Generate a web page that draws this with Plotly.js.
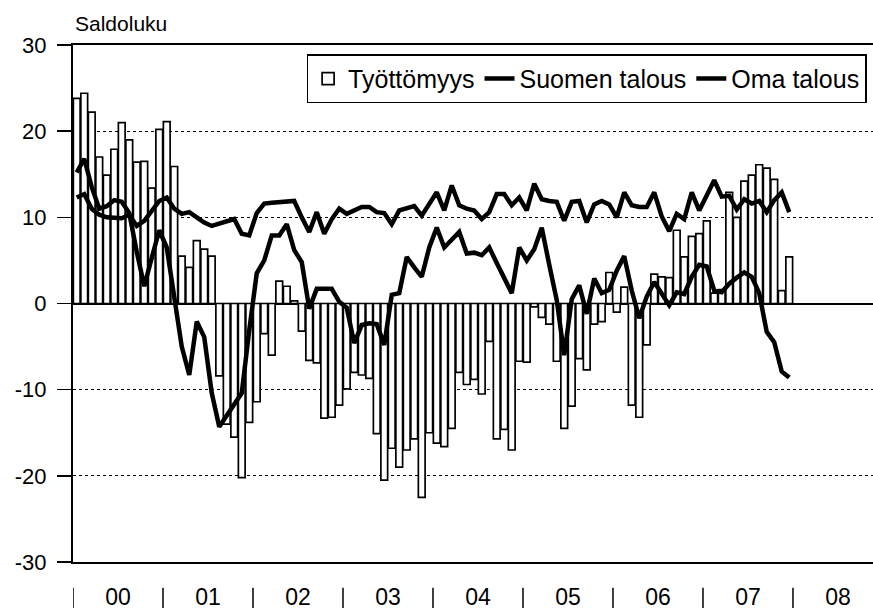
<!DOCTYPE html>
<html>
<head>
<meta charset="utf-8">
<script src="https://cdn.plot.ly/plotly-3.0.1.min.js"></script>
<style>html,body{margin:0;padding:0;background:#fff;}#chart{width:873px;height:612px;}</style>
</head>
<body>
<div id="chart"></div>
<script>
// Year labels (x axis)
const yearLabels = ['00','01','02','03','04','05','06','07','08'];

// Työttömyys (bars), monthly 2000-2007
const tyottomyys = [
  23.8, 24.4, 22.2, 17.0, 14.9, 17.9, 21.0, 19.0, 16.4, 16.5, 13.4, 20.2,
  21.1, 15.9, 5.5, 4.2, 7.3, 6.3, 5.5, -8.4, -14.0, -15.5, -20.2, -13.8,
  -11.4, -3.5, -6.0, 2.6, 2.0, 0.3, -3.2, -6.6, -6.9, -13.3, -13.2, -11.8,
  -9.9, -8.0, -8.3, -8.7, -15.1, -20.5, -16.8, -19.0, -17.0, -15.7, -22.5, -15.0,
  -16.2, -16.6, -14.5, -8.0, -9.4, -8.8, -10.5, -4.4, -15.7, -14.6, -17.0, -6.7,
  -6.8, -0.4, -1.6, -2.4, -6.7, -14.5, -11.9, -6.4, -7.7, -2.4, -2.1, 3.6,
  -1.0, 1.9, -11.8, -13.2, -4.8, 3.4, 3.1, 3.0, 8.5, 5.4, 7.8, 8.1,
  9.6, 1.2, 1.6, 12.9, 10.0, 14.2, 14.9, 16.1, 15.7, 14.4, 1.5, 5.4
];

// Suomen talous (line)
const suomenTalous = [
  15.2, 16.8, 13.5, 11.0, 11.3, 12.0, 11.8, 10.5, 6.0, 2.0, 5.3, 8.5,
  6.5, 0.5, -5.0, -8.3, -2.1, -3.9, -10.4, -14.3, -13.0, -11.8, -10.4, -3.1,
  3.5, 5.0, 7.9, 7.9, 9.2, 6.2, 4.8, -0.6, 1.7, 1.7, 1.7, 0.2,
  -0.5, -4.6, -2.5, -2.3, -2.4, -4.8, 1.0, 1.2, 5.4, 4.2, 3.1, 6.5,
  8.8, 6.5, 7.4, 8.3, 5.8, 5.9, 5.6, 6.5, 4.7, 3.0, 1.2, 6.5,
  5.0, 6.3, 8.8, 4.5, 0.4, -6.0, 0.5, 2.1, -1.2, 2.9, 1.2, 1.6,
  3.8, 5.5, 1.5, -1.7, 0.8, 2.5, 1.2, -0.2, 1.3, 1.1, 3.1, 4.5,
  4.3, 1.5, 1.3, 2.3, 3.0, 3.6, 3.1, 1.2, -3.3, -4.5, -7.9, -8.6
];

// Oma talous (line)
const omaTalous = [
  12.3, 12.7, 11.0, 10.3, 10.0, 9.9, 9.9, 10.3, 9.0, 9.6, 10.8, 11.9,
  12.3, 11.0, 10.4, 10.6, 10.0, 9.4, 9.0, 9.3, 9.5, 9.8, 8.1, 7.9,
  10.5, 11.6, 11.7, 11.8, 11.9, 11.9, 10.0, 8.3, 10.6, 8.1, 9.8, 11.0,
  10.4, 10.8, 11.2, 11.2, 10.6, 10.5, 9.2, 10.8, 11.0, 11.3, 10.2, 11.5,
  12.9, 10.8, 13.7, 11.4, 11.0, 10.8, 9.8, 10.6, 12.7, 12.7, 11.4, 12.3,
  10.8, 13.9, 12.1, 11.9, 11.8, 9.6, 11.8, 11.9, 9.4, 11.5, 11.9, 11.5,
  10.0, 12.9, 11.4, 11.2, 11.2, 12.9, 10.1, 8.4, 10.4, 9.8, 12.9, 10.8,
  12.5, 14.3, 12.4, 12.5, 10.9, 12.1, 11.6, 11.9, 10.6, 12.0, 12.9, 10.6
];

const seriesNames = ['Työttömyys', 'Suomen talous', 'Oma talous'];
const yTicks = [-30, -20, -10, 0, 10, 20, 30];

const monthIdx = tyottomyys.map((_, i) => i);
const yearMid = yearLabels.map((_, k) => 12 * k + 5.5);
const yearEdges = yearLabels.map((_, k) => 12 * k - 0.5);

const FONT = '"Liberation Sans", Arial, sans-serif';

const traces = [
  {
    type: 'bar', name: seriesNames[0], x: monthIdx, y: tyottomyys,
    marker: { color: '#ffffff', line: { color: '#000000', width: 1.7 } }
  },
  {
    type: 'scatter', mode: 'lines', name: seriesNames[1], x: monthIdx, y: suomenTalous,
    line: { color: '#000000', width: 4.5 }
  },
  {
    type: 'scatter', mode: 'lines', name: seriesNames[2], x: monthIdx, y: omaTalous,
    line: { color: '#000000', width: 4.5 }
  }
];

const shapes = yearEdges.map(e => ({
  type: 'line', xref: 'x', yref: 'paper', x0: e, x1: e, y0: -0.05, y1: -0.089,
  line: { color: '#000000', width: 1.5 }
}));

const layout = {
  width: 873, height: 612,
  margin: { l: 73, r: 0, t: 45, b: 50 },
  paper_bgcolor: '#ffffff', plot_bgcolor: '#ffffff',
  font: { family: FONT, color: '#000000' },
  title: {
    text: 'Saldoluku', font: { family: FONT, size: 21, color: '#000' },
    x: 75 / 873, xanchor: 'left', xref: 'container',
    y: 1 - 24 / 612, yanchor: 'middle', yref: 'container'
  },
  bargap: 0.1,
  showlegend: true,
  legend: {
    orientation: 'h', x: 0.992, xanchor: 'right', y: 0.982, yanchor: 'top',
    bgcolor: '#ffffff', bordercolor: '#000000', borderwidth: 1.5,
    font: { family: FONT, size: 25, color: '#000' },
    itemwidth: 30, tracegroupgap: 0, traceorder: 'normal'
  },
  xaxis: {
    range: [-0.5, 106.17], showgrid: false, zeroline: false,
    showline: true, mirror: true, linecolor: '#000000', linewidth: 2,
    tickmode: 'array', tickvals: yearMid, ticktext: yearLabels, ticks: '',
    ticklabelstandoff: 13,
    tickfont: { family: FONT, size: 23, color: '#000' }
  },
  yaxis: {
    range: [-30, 30], tickmode: 'array', tickvals: yTicks,
    ticktext: yTicks.map(v => String(v)),
    showgrid: true, gridcolor: '#000000', gridwidth: 1, griddash: 'dot',
    zeroline: true, zerolinecolor: '#000000', zerolinewidth: 2,
    showline: true, linecolor: '#000000', linewidth: 2, mirror: false,
    ticks: 'outside', ticklen: 14, tickwidth: 1.5, tickcolor: '#000000',
    ticklabelstandoff: 6,
    tickfont: { family: FONT, size: 22, color: '#000' }
  },
  shapes: shapes
};

Plotly.newPlot('chart', traces, layout, { displayModeBar: false, staticPlot: true });
</script>
</body>
</html>
